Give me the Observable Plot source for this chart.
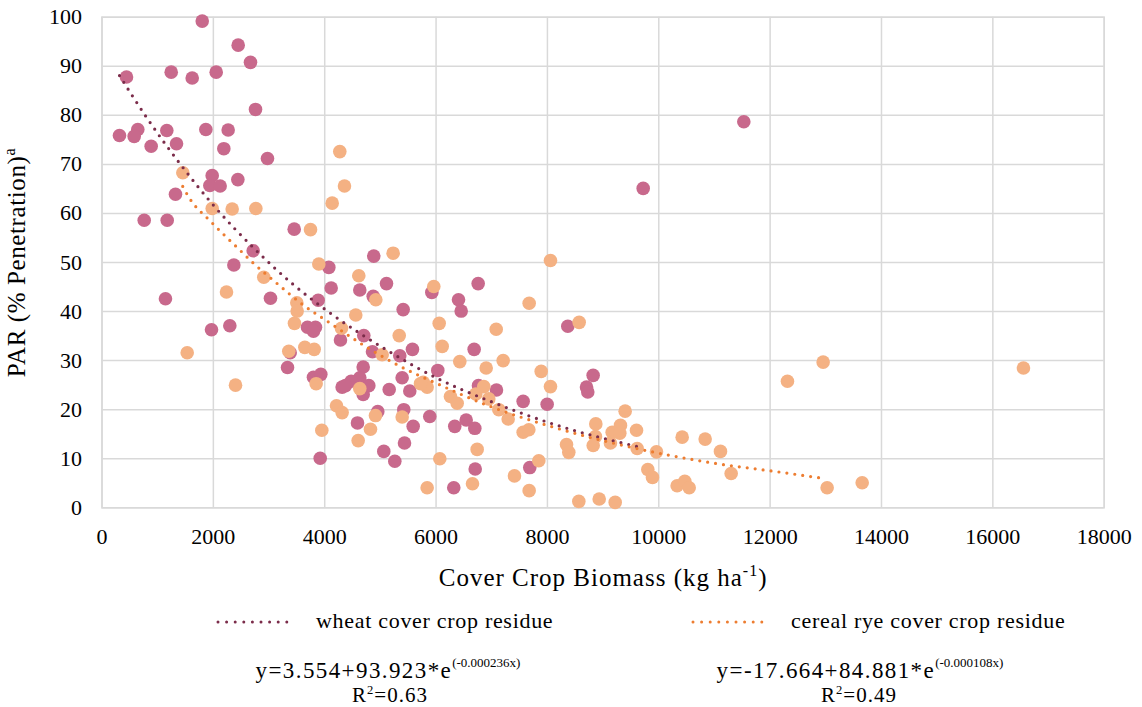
<!DOCTYPE html>
<html><head><meta charset="utf-8">
<script src="https://cdn.jsdelivr.net/npm/d3@7"></script>
<script src="https://cdn.jsdelivr.net/npm/@observablehq/plot@0.6"></script>
<style>
body{margin:0;background:#fff;}
#wrap{position:relative;width:1142px;height:707px;font-family:'Liberation Serif';color:#000;overflow:hidden;}
#chart{position:absolute;left:0;top:0;}
.leg{position:absolute;font-size:22px;white-space:nowrap;line-height:1;}
.ctr{width:440px;text-align:center;}
.sup{font-size:0.6em;position:relative;top:-0.6em;}
.esup{font-size:13px;letter-spacing:0;position:relative;top:-11px;}
</style></head><body>
<div id="wrap">
  <div id="chart"></div>
  <svg class="leg" style="left:214px;top:617px" width="80" height="10"><line x1="4" y1="5" x2="76" y2="5" stroke="#7b2c4a" stroke-width="3" stroke-linecap="round" stroke-dasharray="0,8.6"/></svg>
  <div class="leg" id="lw" style="left:316px;top:610px;letter-spacing:0.7px">wheat cover crop residue</div>
  <svg class="leg" style="left:689px;top:617px" width="80" height="10"><line x1="4" y1="5" x2="76" y2="5" stroke="#ed7d31" stroke-width="3" stroke-linecap="round" stroke-dasharray="0,8.6"/></svg>
  <div class="leg" id="lr" style="left:791px;top:610px;letter-spacing:0.7px">cereal rye cover crop residue</div>
  <div class="leg ctr" style="left:168px;top:659px;font-size:23px;letter-spacing:1.4px">y=3.554+93.923*e<span class="esup">(-0.000236x)</span></div>
  <div class="leg ctr" style="left:170px;top:685px;font-size:21px;letter-spacing:1px">R<span class="sup">2</span>=0.63</div>
  <div class="leg ctr" style="left:640px;top:659px;font-size:23px;letter-spacing:1.4px">y=-17.664+84.881*e<span class="esup">(-0.000108x)</span></div>
  <div class="leg ctr" style="left:639px;top:685px;font-size:21px;letter-spacing:1px">R<span class="sup">2</span>=0.49</div>
</div>
<script>
// Axis ticks
const xTicks = [0, 2000, 4000, 6000, 8000, 10000, 12000, 14000, 16000, 18000];
const yTicks = [0, 10, 20, 30, 40, 50, 60, 70, 80, 90, 100];

// Wheat cover crop residue (biomass kg/ha, PAR %)
const wheatX = [1800,2446,2667,440,1243,1620,2051,2757,314,643,578,1164,1865,2266,883,1338,2188,2972,1979,1937,2122,2440,1320,758,1171,3452,2715,
  2368,4074,4116,1140,3026,3883,3691,3834,3798,1967,2296,3380,3332,3798,3930,3919,
  4881,9720,11527,
  4630,5110,4871,5924,6756,6403,6451,5409,4283,4702,4858,5348,5576,6684,7564,7995,6031,4691,4630,4475,4313,4373,4792,4691,5391,5158,5528,6762,7085,4953,5420,5887,4589,5589,5433,5061,5259,6336,6541,6696,6703,7683,6318,
  8366,8821,8702,8725];
const wheatY = [99.2,94.3,90.8,87.8,88.8,87.6,88.8,81.2,75.9,77.1,75.7,76.9,77.1,77.0,73.7,74.2,73.2,71.2,67.7,65.7,65.6,66.9,63.9,58.6,58.6,56.8,52.4,
  49.5,49.0,44.8,42.6,42.7,42.3,36.8,36.8,36.0,36.3,37.1,31.6,28.6,26.6,27.2,10.1,
  51.3,65.1,78.7,
  44.4,45.7,43.1,43.9,45.7,42.4,40.1,40.4,34.2,35.1,31.8,31.0,32.3,32.3,21.7,21.1,28.0,28.7,26.5,25.8,24.6,24.9,24.9,23.1,26.5,24.1,23.8,24.9,24.0,19.6,20.0,18.6,17.3,16.6,13.2,11.5,9.5,16.6,17.9,16.2,7.9,8.2,4.1,
  37.0,27.0,24.6,23.6];

// Cereal rye cover crop residue
const ryeX = [1452,1979,2338,2763,3745,
  4271,4134,4355,5229,8055,
  3894,2906,2236,3499,3505,3457,1530,3355,3643,3811,3846,2398,3948,
  4612,4918,5959,7672,4558,4301,5338,6056,7080,5032,6110,6426,6900,7205,7888,8055,4630,5769,5840,5720,6259,6379,6714,6857,6947,7127,7295,7564,7666,4912,5391,4212,4313,4822,4601,6738,6067,7408,7845,7672,6654,5840,
  8570,9396,8869,9312,9163,9300,9600,8863,8343,8384,8822,9132,9612,9959,10420,10833,11108,11300,9803,9887,10330,10467,10546,8564,8930,9217,
  12311,12952,16550,13024,13653];
const ryeY = [68.3,61.0,60.9,61.0,56.7,
  72.6,62.1,65.6,51.9,50.4,
  49.7,47.0,44.0,41.8,40.1,37.6,31.6,31.9,32.7,32.3,25.3,25.0,15.8,
  47.3,42.4,45.1,41.7,39.3,36.6,35.1,37.6,36.4,31.2,32.9,29.8,28.5,30.0,27.8,24.7,24.3,25.6,24.6,25.3,22.7,21.3,23.2,24.7,22.2,20.0,18.1,15.4,15.9,18.8,18.5,20.8,19.4,16.0,13.7,11.9,10.0,6.5,9.6,3.5,4.9,4.1,
  37.8,19.7,17.1,16.8,15.4,15.2,15.8,14.5,12.9,11.3,12.7,13.2,12.1,11.4,14.4,14.0,11.5,7.0,7.8,6.2,4.5,5.4,4.1,1.3,1.8,1.1,
  25.8,29.7,28.5,4.1,5.1];

// Fitted trend curves
const wheatTrendX = [314,799,1140,1410,1961,2775,3416,4122,5122,6020,6977,8235,9641];
const wheatTrendY = [88.1,79.6,74.1,70.0,62.2,52.4,45.7,39.5,32.1,26.4,21.7,16.6,12.4];
const ryeTrendX = [1450,1560,1949,2470,2697,3146,3607,4104,4703,5361,6020,6918,8115,9970,10988,12156,12892];
const ryeTrendY = [65.5,63.3,58.4,52.6,50.1,45.7,41.4,37.6,33.1,28.8,25.3,20.9,16.4,11.2,9.1,7.3,6.1];

const wheatColor = "#c8698c", ryeColor = "#f4b183";
const wheatLine = "#7b2c4a", ryeLine = "#ed7d31";

const wheat = wheatX.map((x, i) => ({x, y: wheatY[i]}));
const rye = ryeX.map((x, i) => ({x, y: ryeY[i]}));
const wheatTrend = wheatTrendX.map((x, i) => ({x, y: wheatTrendY[i]}));
const ryeTrend = ryeTrendX.map((x, i) => ({x, y: ryeTrendY[i]}));

const gridStyle = {stroke: "#d9d9d9", strokeOpacity: 1, strokeWidth: 1.5};
const FONT = "Liberation Serif";

const plot = Plot.plot({
  width: 1142,
  height: 600,
  marginLeft: 101.5,
  marginRight: 38.3,
  marginTop: 16.7,
  marginBottom: 92.7,
  style: {fontFamily: FONT, fontSize: "22px", color: "#000", background: "#fff"},
  x: {domain: [0, 18000]},
  y: {domain: [0, 100]},
  marks: [
    Plot.gridX(xTicks, gridStyle),
    Plot.gridY(yTicks, gridStyle),
    Plot.frame({stroke: "#d9d9d9", strokeWidth: 1.5}),
    Plot.axisX(xTicks, {tickSize: 0, tickPadding: 21, tickFormat: d => String(d), fontSize: 22, fontFamily: FONT,
      label: "Cover Crop Biomass (kg ha)", labelAnchor: "center", labelArrow: "none", labelOffset: 78}),
    Plot.axisY(yTicks, {tickSize: 0, tickPadding: 20, tickFormat: d => String(d), fontSize: 22, fontFamily: FONT,
      label: "PAR (% Penetration)", labelAnchor: "center", labelArrow: "none", labelOffset: 95}),
    Plot.dot(wheat, {x: "x", y: "y", r: 6.8, fill: wheatColor, stroke: "none"}),
    Plot.dot(rye, {x: "x", y: "y", r: 6.8, fill: ryeColor, stroke: "none"}),
    Plot.line(wheatTrend, {x: "x", y: "y", stroke: wheatLine, strokeWidth: 3.2, strokeDasharray: "0,8", strokeLinecap: "round", curve: "monotone-x"}),
    Plot.line(ryeTrend, {x: "x", y: "y", stroke: ryeLine, strokeWidth: 3.2, strokeDasharray: "0,8", strokeLinecap: "round", curve: "monotone-x"})
  ]
});
document.getElementById("chart").appendChild(plot);

// Superscripts in the axis titles
const NS = "http://www.w3.org/2000/svg";
function supLabel(sel, main, sup, tail, size, spacing) {
  const t = plot.querySelector(sel);
  if (!t) return;
  t.textContent = main;
  t.setAttribute("font-size", size);
  t.setAttribute("font-family", FONT);
  t.setAttribute("letter-spacing", spacing);
  const s = document.createElementNS(NS, "tspan");
  s.setAttribute("font-size", Math.round(size * 0.62));
  s.setAttribute("dy", -Math.round(size * 0.38));
  s.textContent = sup;
  t.appendChild(s);
  if (tail) {
    const r = document.createElementNS(NS, "tspan");
    r.setAttribute("dy", Math.round(size * 0.38));
    r.textContent = tail;
    t.appendChild(r);
  }
}
supLabel('g[aria-label="x-axis label"] text', "Cover Crop Biomass (kg ha", "-1", ")", 25, 1);
supLabel('g[aria-label="y-axis label"] text', "PAR (% Penetration)", "a", null, 25, 0.6);
</script>
</body></html>
